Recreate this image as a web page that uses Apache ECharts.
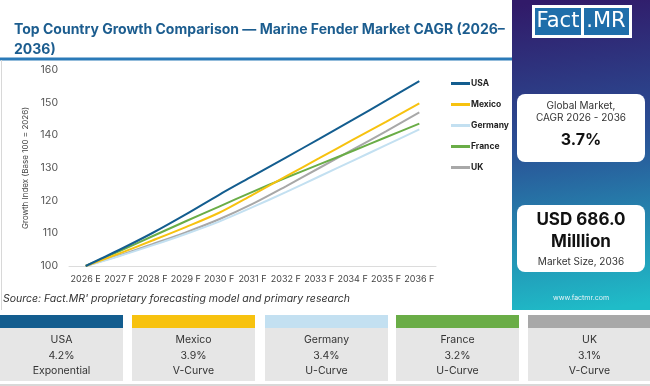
<!DOCTYPE html>
<html><head><meta charset="utf-8">
<script src="https://cdn.jsdelivr.net/npm/echarts@6/dist/echarts.min.js"></script>
<style>html,body{margin:0;padding:0;background:#fff}#c{width:650px;height:386px}</style>
</head><body><div id="c"></div>
<script>
var categories = ['2026 E','2027 F','2028 F','2029 F','2030 F','2031 F','2032 F','2033 F','2034 F','2035 F','2036 F'];
var usa     = [100, 104.9, 110.1, 115.8, 121.8, 127.5, 133.2, 138.9, 144.7, 150.6, 156.6];
var mexico  = [100, 103.8, 107.8, 111.9, 116.3, 121.8, 127.4, 133.0, 138.6, 144.1, 149.8];
var germany = [100, 103.0, 106.3, 109.8, 113.6, 118.0, 122.6, 127.4, 132.2, 137.0, 141.8];
var france  = [100, 104.5, 109.1, 113.7, 118.2, 122.7, 127.0, 131.1, 135.2, 139.4, 143.6];
var uk      = [100, 103.2, 106.7, 110.3, 114.3, 119.0, 124.4, 130.0, 135.6, 141.2, 147.0];
var seriesNames = ['USA','Mexico','Germany','France','UK'];
var cardCagr = ['4.2%','3.9%','3.4%','3.2%','3.1%'];
var cardShape = ['Exponential','V-Curve','U-Curve','U-Curve','V-Curve'];
var colors = ['#135d8f','#f7c20f','#c3e0f1','#6aad47','#a8a8a8'];
var yTicks = [100,110,120,130,140,150,160];

var font = 'Inter, "Open Sans", sans-serif';
var chart = echarts.init(document.getElementById('c'));
var data = [usa, mexico, germany, france, uk];

var graphics = [
  {type:'rect', shape:{x:0,y:57.5,width:512,height:3}, style:{fill:'#2a7ab8'}, z:-1},
  {type:'rect', shape:{x:1,y:60,width:1,height:250}, style:{fill:'#d8d8d8'}},
  {type:'rect', shape:{x:0,y:384,width:650,height:2}, style:{fill:'#d8d8d8'}},
  {type:'rect', shape:{x:512,y:0,width:138,height:310}, style:{fill:new echarts.graphic.LinearGradient(0.3,0,0.6,1,[
      {offset:0,color:'#311a69'},{offset:0.45,color:'#2a4f95'},{offset:1,color:'#1fbcc8'}])}},
  {type:'rect', shape:{x:532,y:5,width:100,height:33}, style:{fill:'#ffffff'}},
  {type:'rect', shape:{x:535,y:8,width:46,height:27}, style:{fill:'#1f6eaa'}},
  {type:'rect', shape:{x:584,y:8,width:45,height:27}, style:{fill:'#1f6eaa'}},
  {type:'text', x:558, y:22, style:{text:'Fact', fill:'#fff', font:'400 21px "DejaVu Sans", sans-serif', align:'center', verticalAlign:'middle'}},
  {type:'text', x:606, y:22, style:{text:'.MR', fill:'#fff', font:'400 21px "DejaVu Sans", sans-serif', align:'center', verticalAlign:'middle'}},
  {type:'rect', shape:{x:517,y:94,width:128,height:68,r:[8,8,8,8]}, style:{fill:'#ffffff'}},
  {type:'text', x:581, y:106, style:{text:'Global Market,', fill:'#333', font:'400 10px '+font, align:'center', verticalAlign:'middle'}},
  {type:'text', x:581, y:118, style:{text:'CAGR 2026 - 2036', fill:'#333', font:'400 10px '+font, align:'center', verticalAlign:'middle'}},
  {type:'text', x:581, y:140, style:{text:'3.7%', fill:'#111', font:'700 16px '+font, align:'center', verticalAlign:'middle'}},
  {type:'rect', shape:{x:517,y:205,width:128,height:67,r:[8,8,8,8]}, style:{fill:'#ffffff'}},
  {type:'text', x:581, y:220, style:{text:'USD 686.0', fill:'#111', font:'700 17px '+font, align:'center', verticalAlign:'middle'}},
  {type:'text', x:581, y:242, style:{text:'Milllion', fill:'#111', font:'700 17px '+font, align:'center', verticalAlign:'middle'}},
  {type:'text', x:581, y:262, style:{text:'Market Size, 2036', fill:'#333', font:'400 10px '+font, align:'center', verticalAlign:'middle'}},
  {type:'text', x:581, y:298, style:{text:'www.factmr.com', fill:'#e8f4f8', font:'400 7px '+font, align:'center', verticalAlign:'middle'}},
  {type:'text', x:3, y:299, style:{text:"Source: Fact.MR' proprietary forecasting model and primary research", fill:'#333', font:'italic 400 10.5px '+font, verticalAlign:'middle'}}
];
var cardX = [0, 132, 265, 396, 528];
for (var i=0;i<5;i++){
  var x0 = cardX[i], w = 123;
  graphics.push({type:'rect', shape:{x:x0,y:328,width:w,height:53}, style:{fill:'#e6e6e6'}});
  graphics.push({type:'rect', shape:{x:x0,y:315,width:w,height:13}, style:{fill:colors[i]}});
  graphics.push({type:'text', x:x0+w/2, y:340, style:{text:seriesNames[i], fill:'#333', font:'400 10.5px '+font, align:'center', verticalAlign:'middle'}});
  graphics.push({type:'text', x:x0+w/2, y:356, style:{text:cardCagr[i], fill:'#333', font:'400 10.5px '+font, align:'center', verticalAlign:'middle'}});
  graphics.push({type:'text', x:x0+w/2, y:371, style:{text:cardShape[i], fill:'#333', font:'400 10.5px '+font, align:'center', verticalAlign:'middle'}});
}

var option = {
  backgroundColor:'#ffffff',
  animation:false,
  title:{text:'Top Country Growth Comparison \u2014 Marine Fender Market CAGR (2026\u2013\n2036)', left:9, top:15,
    textStyle:{color:'#1c5d8f', fontFamily:font, fontWeight:700, fontSize:14, lineHeight:20}},
  legend:{orient:'vertical', left:446, top:74, itemGap:12, itemWidth:19, itemHeight:3,
    icon:'rect', data:seriesNames, textStyle:{fontFamily:font, fontSize:8.5, fontWeight:700, color:'#222', padding:[0,0,0,-4]}},
  grid:{left:69, right:214, top:70, bottom:120},
  xAxis:{type:'category', data:categories, boundaryGap:true,
    axisLine:{lineStyle:{color:'#dcdcdc'}}, axisTick:{lineStyle:{color:'#dcdcdc'}},
    axisLabel:{color:'#444', fontFamily:font, fontSize:9, margin:9, interval:0}},
  yAxis:{type:'value', min:100, max:160, interval:10, splitLine:{show:false},
    axisLine:{show:false}, axisTick:{show:false},
    axisLabel:{color:'#555', fontFamily:font, fontSize:10.5, margin:11, formatter:function(v){return yTicks.indexOf(v)>=0?String(v):'';}},
    name:'Growth Index (Base 100 = 2026)', nameLocation:'middle', nameGap:32,
    nameTextStyle:{color:'#444', fontFamily:font, fontSize:8}},
  series: seriesNames.map(function(n,i){
    return {name:n, type:'line', data:data[i], smooth:0.3, symbol:'none', z: 10-i,
      lineStyle:{width:2, color:colors[i]}, itemStyle:{color:colors[i]}};
  }),
  graphic: graphics
};
chart.setOption(option);
</script></body></html>
